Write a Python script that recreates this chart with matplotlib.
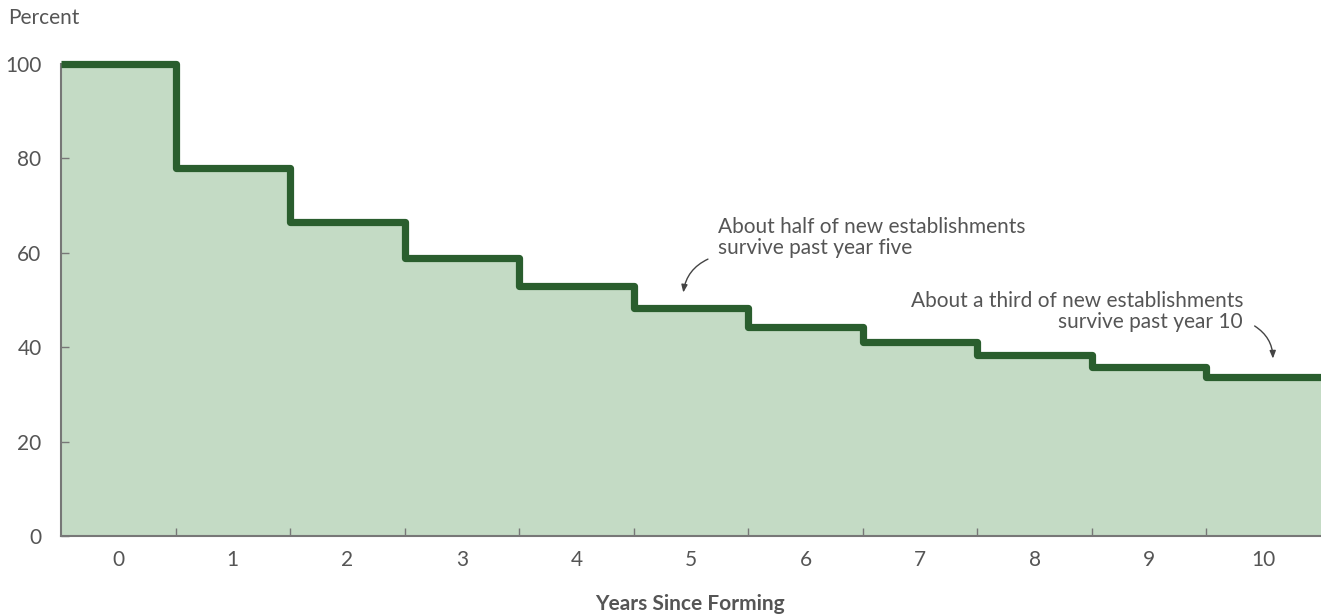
import numpy as np
import matplotlib
matplotlib.use("Agg")
import matplotlib.pyplot as plt

plt.rcParams['font.family'] = ['Lato', 'DejaVu Sans']

# survival share of new establishments by years since forming
years = list(range(11))
percent = [100, 78, 66.5, 58.9, 53.0, 48.3, 44.3, 41.1, 38.3, 35.8, 33.7]

LINE = "#2a5e2e"
FILL = "#c4dbc5"
TEXT = "#555555"
AXIS = "#777777"
FS = 15

fig = plt.figure(figsize=(13.21, 6.16), dpi=100)
ax = fig.add_axes([61 / 1321, 80 / 616, 1 - 61 / 1321, 472 / 616])

# step edges so every year is a full-width step
x = np.array(years, dtype=float)
edges = np.concatenate([x - 0.5, [x[-1] + 0.5]])
vals = np.concatenate([percent, [percent[-1]]])

ax.fill_between(edges, vals, step="post", color=FILL, lw=0, zorder=1)
ax.step(edges, vals, where="post", color=LINE, lw=5.2, zorder=3,
        clip_on=False, solid_joinstyle="round", solid_capstyle="butt")

ax.set_xlim(-0.5, 10.5)
ax.set_ylim(0, 100)

for s in ["top", "right"]:
    ax.spines[s].set_visible(False)
ax.spines["left"].set_color(AXIS)
ax.spines["bottom"].set_color(AXIS)
ax.spines["left"].set_linewidth(1.5)
ax.spines["bottom"].set_linewidth(1.5)
ax.set_axisbelow(False)

ax.set_yticks([0, 20, 40, 60, 80, 100])
ax.tick_params(axis="y", direction="in", length=6, width=1, color=AXIS,
               labelsize=FS, labelcolor=TEXT, pad=14)

ax.set_xticks(years)
ax.set_xticklabels([str(y) for y in years])
ax.set_xticks(edges[1:-1], minor=True)
ax.tick_params(axis="x", which="major", length=0, labelsize=FS,
               labelcolor=TEXT, pad=10)
ax.tick_params(axis="x", which="minor", direction="in", length=6,
               width=1, color=AXIS)

fig.text(690 / 1321, 1 - 604 / 616, "Years Since Forming", fontsize=FS,
         fontweight="bold", color=TEXT, ha="center", va="center")
fig.text(8 / 1321, 1 - 18 / 616, "Percent", fontsize=FS, color=TEXT,
         va="center", ha="left")

ax.annotate("", xy=(4.93, 51.0), xytext=(5.17, 58.9),
            arrowprops=dict(arrowstyle="-|>,head_length=0.45,head_width=0.18",
                            color="#444444", lw=1,
                            connectionstyle="arc3,rad=0.3"))
ax.text(5.24, 63.2, "About half of new establishments\nsurvive past year five",
        fontsize=FS, color=TEXT, ha="left", va="center", linespacing=1.1)

ax.annotate("", xy=(10.08, 37.0), xytext=(9.9, 44.8),
            arrowprops=dict(arrowstyle="-|>,head_length=0.45,head_width=0.18",
                            color="#444444", lw=1,
                            connectionstyle="arc3,rad=-0.3"))
ax.text(9.82, 47.6, "About a third of new establishments\nsurvive past year 10",
        fontsize=FS, color=TEXT, ha="right", va="center", linespacing=1.1,
        multialignment="right")

fig.savefig("out.png", dpi=100)
